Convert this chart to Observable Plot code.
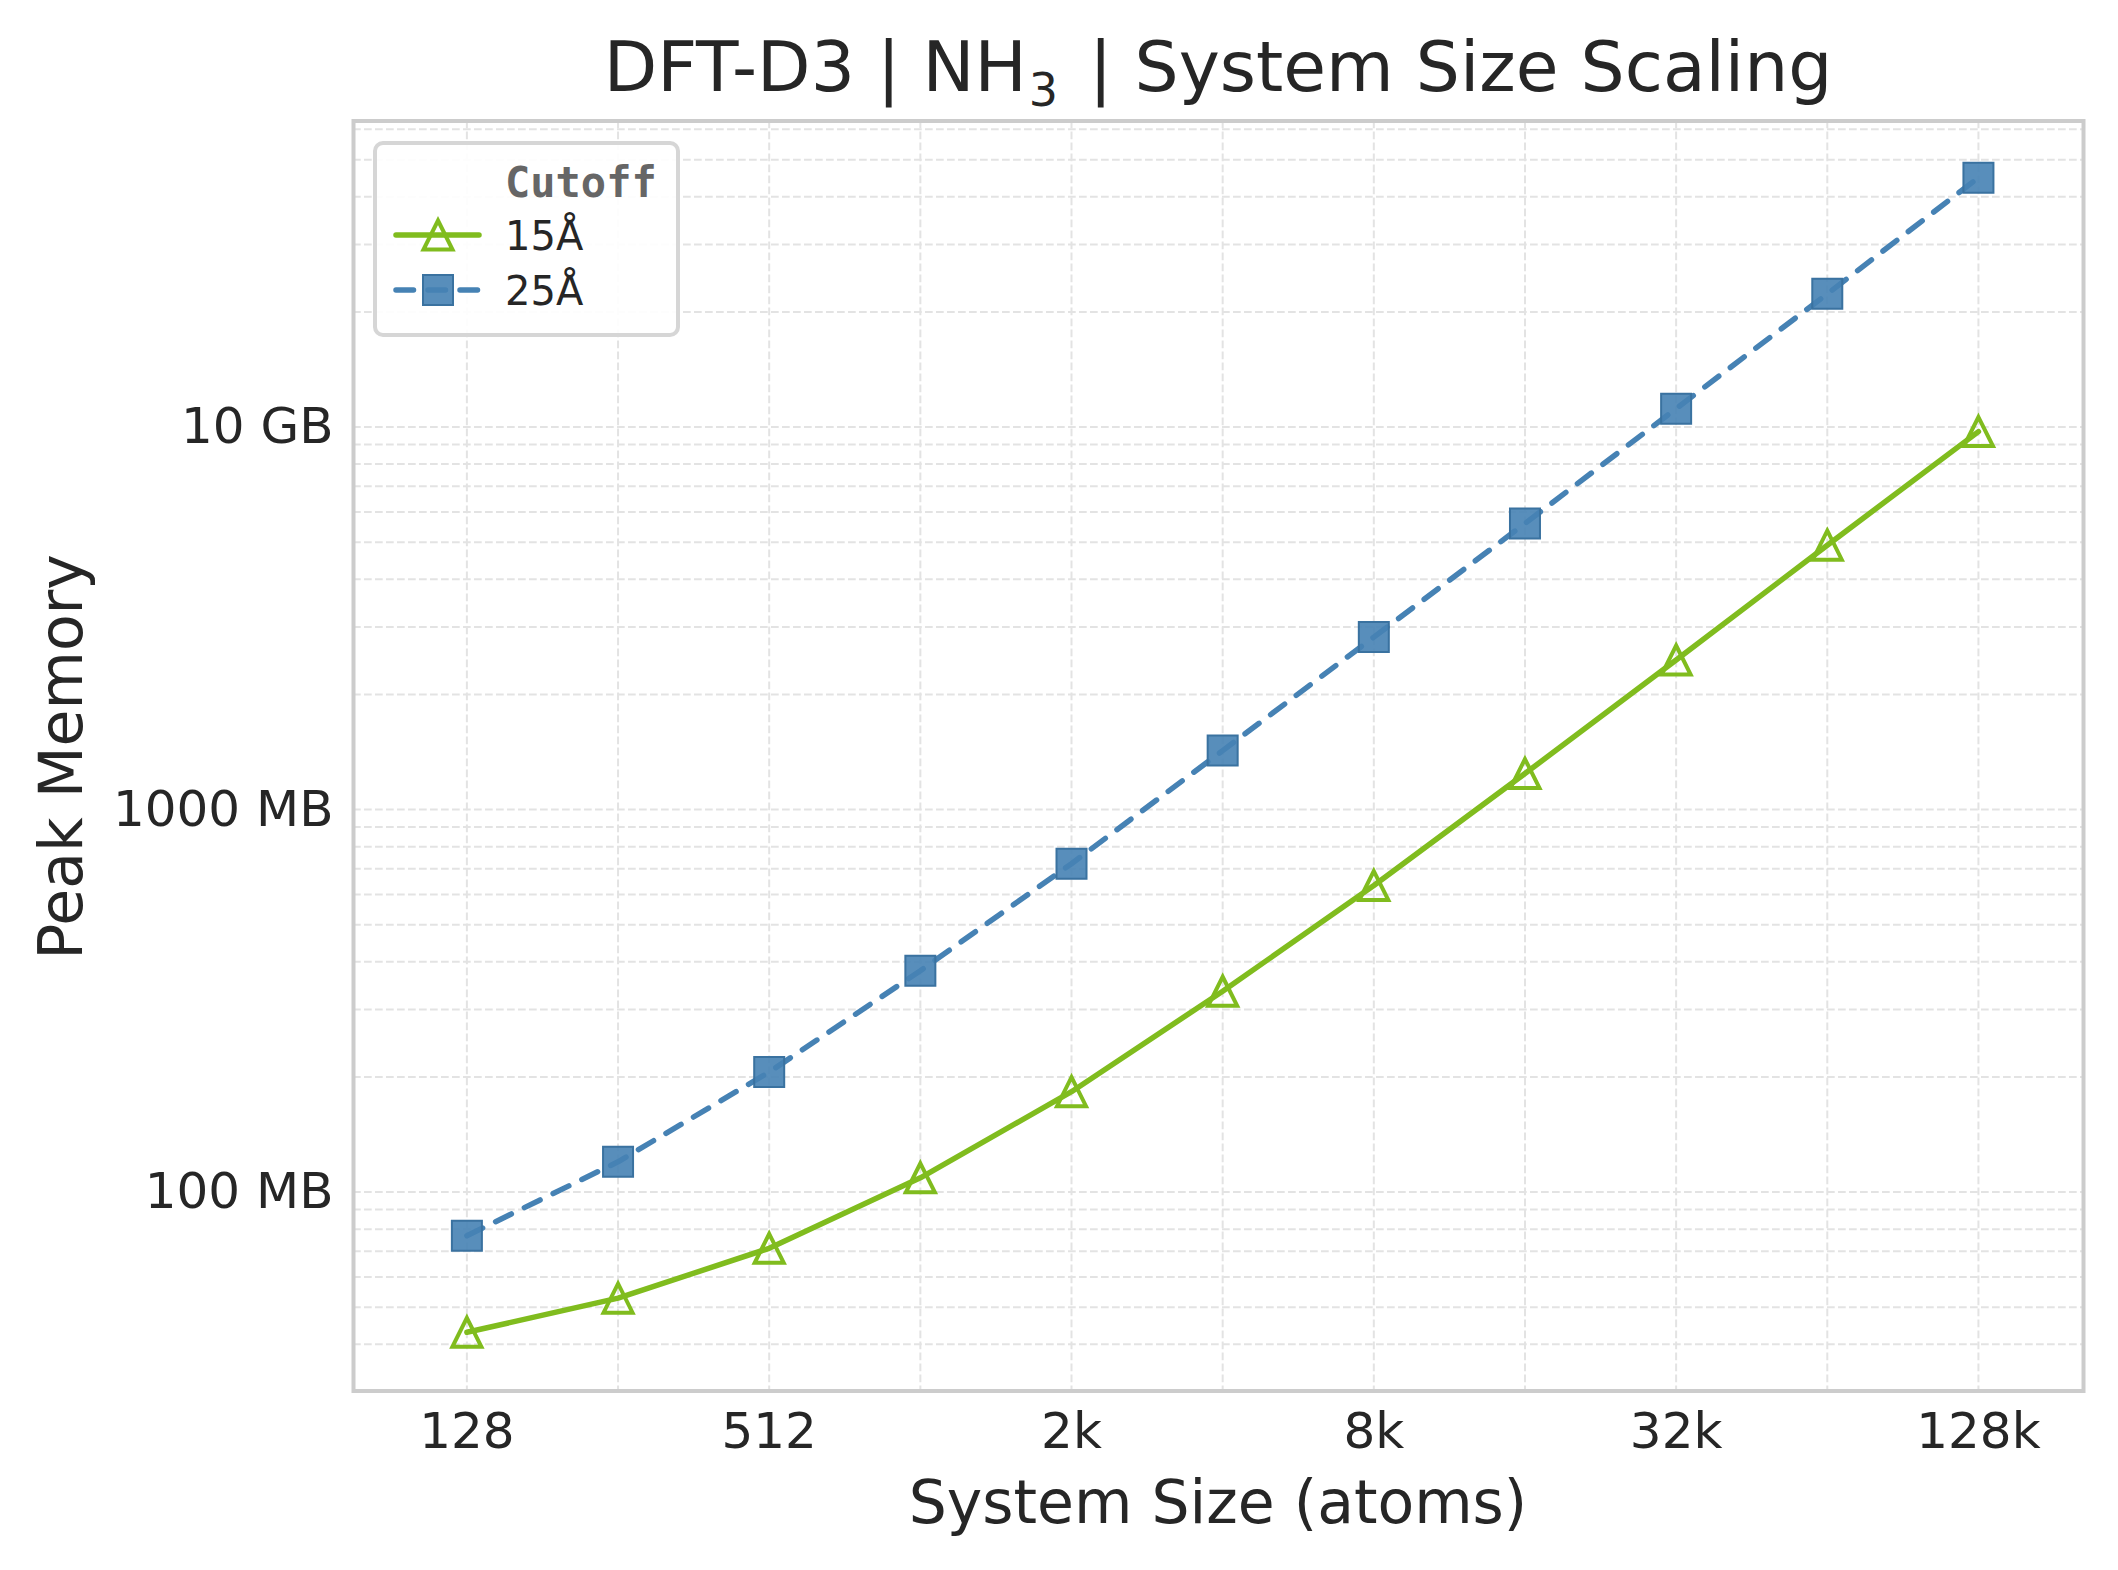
<!DOCTYPE html>
<html>
<head>
<meta charset="utf-8">
<script src="https://cdn.jsdelivr.net/npm/d3@7"></script>
<script src="https://cdn.jsdelivr.net/npm/@observablehq/plot@0.6"></script>
<style>
  html, body { margin: 0; padding: 0; background: #ffffff; }
</style>
</head>
<body>
<div id="chart"></div>
<script>
// ---- data ----
const sizes = [128, 256, 512, 1024, 2048, 4096, 8192, 16384, 32768, 65536, 131072];
const mem15 = [43.0, 52.8, 71.3, 109, 183, 335, 633, 1242, 2460, 4910, 9730];
const mem25 = [76.9, 120, 206, 379, 722, 1426, 2824, 5596, 11170, 22290, 44870];
const cutoffs = ["15Å", "25Å"];

const xTicks = [128, 512, 2048, 8192, 32768, 131072];
const xTickLabels = ["128", "512", "2k", "8k", "32k", "128k"];
const yTicks = [100, 1000, 10000];
const yTickLabels = ["100 MB", "1000 MB", "10 GB"];

const xGrid = [128, 256, 512, 1024, 2048, 4096, 8192, 16384, 32768, 65536, 131072];
const yGrid = [40, 50, 60, 70, 80, 90,
               100, 200, 300, 400, 500, 600, 700, 800, 900,
               1000, 2000, 3000, 4000, 5000, 6000, 7000, 8000, 9000,
               10000, 20000, 30000, 40000, 50000, 60000];

const titleMain = "DFT-D3 | NH";
const titleSub = "3";
const titleRest = " | System Size Scaling";
const xLabel = "System Size (atoms)";
const yLabel = "Peak Memory";
const legendTitle = "Cutoff";

const GREEN = "#80bc1e";
const BLUE = "#4682b4";
const BLUE_EDGE = "#3a72a0";

const rows15 = sizes.map((s, i) => ({size: s, mem: mem15[i]}));
const rows25 = sizes.map((s, i) => ({size: s, mem: mem25[i]}));

// matplotlib-like marker shapes
const tri = {draw(ctx, size) { const h = Math.sqrt(size / Math.PI); ctx.moveTo(0, -h); ctx.lineTo(h, h); ctx.lineTo(-h, h); ctx.closePath(); }};
const sq = {draw(ctx, size) { const h = Math.sqrt(size / Math.PI); ctx.moveTo(-h, -h); ctx.lineTo(h, -h); ctx.lineTo(h, h); ctx.lineTo(-h, h); ctx.closePath(); }};

const W = 2118, H = 1570;
const mL = 353, mR = 35, mT = 120.5, mB = 179.5;

const svg = Plot.plot({
  width: W,
  height: H,
  marginLeft: mL,
  marginRight: mR,
  marginTop: mT,
  marginBottom: mB,
  style: {fontFamily: "DejaVu Sans", fontSize: "50px", color: "#262626", background: "#ffffff", overflow: "visible"},
  x: {type: "log", base: 2, domain: [76.1, 212200]},
  y: {type: "log", domain: [30.2, 63100]},
  marks: [
    Plot.ruleY(yGrid, {stroke: "#e3e3e3", strokeWidth: 2, strokeDasharray: "7.7,3.3"}),
    Plot.ruleX(xGrid, {stroke: "#e3e3e3", strokeWidth: 2, strokeDasharray: "7.7,3.3"}),
    Plot.line(rows15, {x: "size", y: "mem", stroke: GREEN, strokeWidth: 5.5, strokeLinecap: "round", strokeLinejoin: "round"}),
    Plot.dot(rows15, {x: "size", y: "mem", symbol: tri, r: 14.5, stroke: GREEN, strokeWidth: 4, fill: "none", strokeLinejoin: "miter"}),
    Plot.line(rows25, {x: "size", y: "mem", stroke: BLUE, strokeWidth: 5.5, strokeDasharray: "17.5,14.5", strokeLinecap: "round", strokeLinejoin: "round"}),
    Plot.dot(rows25, {x: "size", y: "mem", symbol: sq, r: 15, fill: BLUE, fillOpacity: 0.9, stroke: BLUE_EDGE, strokeWidth: 2}),
    Plot.frame({stroke: "#cccccc", strokeWidth: 4}),
    Plot.axisX({ticks: xTicks, tickFormat: d => xTickLabels[xTicks.indexOf(d)], tickSize: 0, tickPadding: 21, fontSize: 50, label: null}),
    Plot.axisY({ticks: yTicks, tickFormat: d => yTickLabels[yTicks.indexOf(d)], tickSize: 0, tickPadding: 20, fontSize: 50, label: null})
  ]
});

const s = d3.select(svg);
const cx = (mL + (W - mR)) / 2;

// title
const t = s.append("text")
  .attr("x", cx).attr("y", 91)
  .attr("text-anchor", "middle")
  .attr("font-family", "DejaVu Sans")
  .attr("font-size", 69.5)
  .attr("fill", "#262626");
t.append("tspan").text(titleMain);
t.append("tspan").attr("dx", 2).attr("dy", 15).attr("font-size", 46).text(titleSub);
t.append("tspan").attr("dx", 9).attr("dy", -15).text(titleRest);

// axis labels
s.append("text")
  .attr("x", cx).attr("y", 1523)
  .attr("text-anchor", "middle")
  .attr("font-family", "DejaVu Sans")
  .attr("font-size", 60)
  .attr("fill", "#262626")
  .text(xLabel);
s.append("text")
  .attr("transform", `translate(82,757) rotate(-90)`)
  .attr("text-anchor", "middle")
  .attr("font-family", "DejaVu Sans")
  .attr("font-size", 60)
  .attr("fill", "#262626")
  .text(yLabel);

// legend
const lg = s.append("g").attr("text-anchor", "start");
lg.append("rect")
  .attr("x", 375).attr("y", 143).attr("width", 303).attr("height", 192)
  .attr("rx", 8).attr("ry", 8)
  .attr("fill", "#ffffff").attr("fill-opacity", 0.9)
  .attr("stroke", "#d6d6d6").attr("stroke-width", 4);
lg.append("text")
  .attr("x", 505).attr("y", 197)
  .attr("text-anchor", "start")
  .attr("font-family", "DejaVu Sans Mono")
  .attr("font-weight", "bold")
  .attr("font-size", 42)
  .attr("fill", "#666666")
  .text(legendTitle);

const rowsY = [235, 290];
// 15Å row
lg.append("line").attr("x1", 396).attr("x2", 479).attr("y1", rowsY[0]).attr("y2", rowsY[0])
  .attr("stroke", GREEN).attr("stroke-width", 5.5).attr("stroke-linecap", "round");
lg.append("path").attr("transform", `translate(438,${rowsY[0]})`)
  .attr("d", d3.symbol(tri, Math.PI * 14.5 * 14.5)())
  .attr("fill", "none").attr("stroke", GREEN).attr("stroke-width", 4).attr("stroke-linejoin", "miter");
// 25Å row
lg.append("line").attr("x1", 396).attr("x2", 479).attr("y1", rowsY[1]).attr("y2", rowsY[1])
  .attr("stroke", BLUE).attr("stroke-width", 5.5).attr("stroke-linecap", "round")
  .attr("stroke-dasharray", "17.5,14.5");
lg.append("path").attr("transform", `translate(438,${rowsY[1]})`)
  .attr("d", d3.symbol(sq, Math.PI * 15 * 15)())
  .attr("fill", BLUE).attr("fill-opacity", 0.9).attr("stroke", BLUE_EDGE).attr("stroke-width", 2);

cutoffs.forEach((c, i) => {
  lg.append("text")
    .attr("x", 505).attr("y", [250, 305][i])
    .attr("text-anchor", "start")
    .attr("font-family", "DejaVu Sans")
    .attr("font-size", 40)
    .attr("fill", "#262626")
    .text(c);
});

document.getElementById("chart").appendChild(svg);
</script>
</body>
</html>
